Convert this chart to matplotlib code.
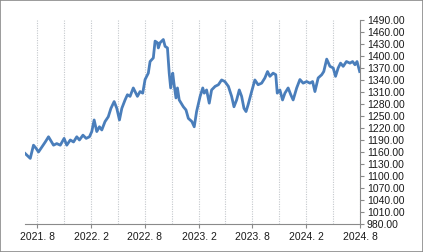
import matplotlib
matplotlib.use("Agg")
import matplotlib.pyplot as plt
from matplotlib.patches import Rectangle
import datetime as dt

dates = ["2021-06-21","2021-07-08","2021-07-19","2021-07-28","2021-08-05","2021-08-17","2021-08-28",
         "2021-09-08","2021-09-25","2021-10-06","2021-10-18","2021-10-31","2021-11-09","2021-11-21",
         "2021-12-02","2021-12-13","2021-12-22","2022-01-03","2022-01-14","2022-01-25","2022-02-02",
         "2022-02-10","2022-02-19","2022-02-28","2022-03-08","2022-03-19","2022-03-30","2022-04-08",
         "2022-04-19","2022-04-28","2022-05-07","2022-05-15","2022-05-26","2022-06-03","2022-06-12",
         "2022-06-23","2022-06-29","2022-07-07","2022-07-16","2022-07-25","2022-08-02","2022-08-13",
         "2022-08-19","2022-08-30","2022-09-05","2022-09-13","2022-09-16","2022-09-22","2022-10-03",
         "2022-10-09","2022-10-17","2022-10-23","2022-10-28","2022-11-04","2022-11-08","2022-11-15",
         "2022-11-20","2022-11-26","2022-12-10","2022-12-19","2022-12-27","2023-01-08","2023-01-16",
         "2023-01-24","2023-02-05","2023-02-14","2023-02-19","2023-02-27","2023-03-08","2023-03-16",
         "2023-03-28","2023-04-08","2023-04-19","2023-04-30","2023-05-12","2023-05-23","2023-05-31",
         "2023-06-09","2023-06-18","2023-06-26","2023-07-04","2023-07-11","2023-07-18","2023-07-30",
         "2023-08-10","2023-08-21","2023-09-02","2023-09-13","2023-09-22","2023-09-30","2023-10-11",
         "2023-10-20","2023-10-25","2023-11-03","2023-11-12","2023-11-20","2023-12-01","2023-12-10",
         "2023-12-18","2023-12-30","2024-01-10","2024-01-21","2024-02-02","2024-02-13","2024-02-22",
         "2024-03-01","2024-03-12","2024-03-24","2024-03-31","2024-04-10","2024-04-21","2024-05-02",
         "2024-05-10","2024-05-19","2024-05-27","2024-06-05","2024-06-16","2024-06-28","2024-07-07",
         "2024-07-15","2024-07-22","2024-07-31"]
values = [1156,1144,1177,1169,1160,1173,1185,
          1198,1177,1181,1177,1194,1177,1190,
          1185,1198,1190,1202,1194,1198,1211,
          1240,1211,1223,1215,1236,1248,1269,
          1286,1269,1240,1269,1290,1303,1299,
          1320,1311,1299,1311,1307,1341,1357,
          1386,1395,1437,1433,1420,1433,1441,
          1424,1420,1357,1320,1357,1332,1295,
          1320,1290,1273,1265,1244,1236,1223,
          1261,1299,1320,1307,1315,1282,1315,
          1324,1328,1340,1336,1324,1299,1273,
          1290,1315,1299,1269,1261,1278,1311,
          1340,1328,1332,1345,1361,1349,1357,
          1353,1307,1315,1290,1307,1320,1303,
          1290,1320,1341,1332,1336,1332,1336,
          1311,1345,1353,1361,1392,1374,1370,
          1349,1370,1382,1374,1386,1382,1386,
          1378,1386,1361]

y_ticks = list(range(980, 1491, 30))
x_major = ["2021-08-01","2022-02-01","2022-08-01","2023-02-01","2023-08-01","2024-02-01","2024-08-01"]
x_labels = ["2021. 8","2022. 2","2022. 8","2023. 2","2023. 8","2024. 2","2024. 8"]
x_grid = ["2021-08-01","2021-11-01","2022-02-01","2022-05-01","2022-08-01","2022-11-01",
          "2023-02-01","2023-05-01","2023-08-01","2023-11-01","2024-02-01","2024-05-01","2024-08-01"]

plt.rcParams['font.family'] = ['Liberation Sans', 'DejaVu Sans']

fig = plt.figure(figsize=(4.23, 2.52), dpi=100)
fig.patches.append(Rectangle((0, 0), 1, 1, transform=fig.transFigure, fill=False,
                             edgecolor='#8a8a8a', linewidth=1.2))
ax = fig.add_axes([0.059, 0.111, 0.792, 0.810])

d = [dt.datetime.strptime(s, "%Y-%m-%d") for s in dates]
ax.plot(d, values, color='#4a7ebb', linewidth=2.0, solid_joinstyle='round')

for g in x_grid:
    ax.axvline(dt.datetime.strptime(g, "%Y-%m-%d"), color='#c4c8cc', linestyle=(0, (1, 1.2)),
               linewidth=0.8, zorder=0)

ax.set_xlim(dt.datetime(2021, 6, 20), dt.datetime(2024, 8, 1))
ax.set_ylim(980, 1490)
ax.set_yticks(y_ticks)
ax.set_yticklabels([f"{v:.2f}" for v in y_ticks])
ax.yaxis.tick_right()
ax.set_xticks([dt.datetime.strptime(s, "%Y-%m-%d") for s in x_major])
ax.set_xticklabels(x_labels)

for s in ['left', 'top']:
    ax.spines[s].set_visible(False)
for s in ['right', 'bottom']:
    ax.spines[s].set_color('#8a8a8a')
    ax.spines[s].set_linewidth(0.8)
ax.tick_params(axis='both', colors='#8a8a8a', labelcolor='#1a1a1a', labelsize=7.5,
               length=3, width=0.8, direction='out')
ax.tick_params(axis='y', pad=2)
ax.tick_params(axis='x', pad=3)

fig.savefig("out.png", dpi=100)
